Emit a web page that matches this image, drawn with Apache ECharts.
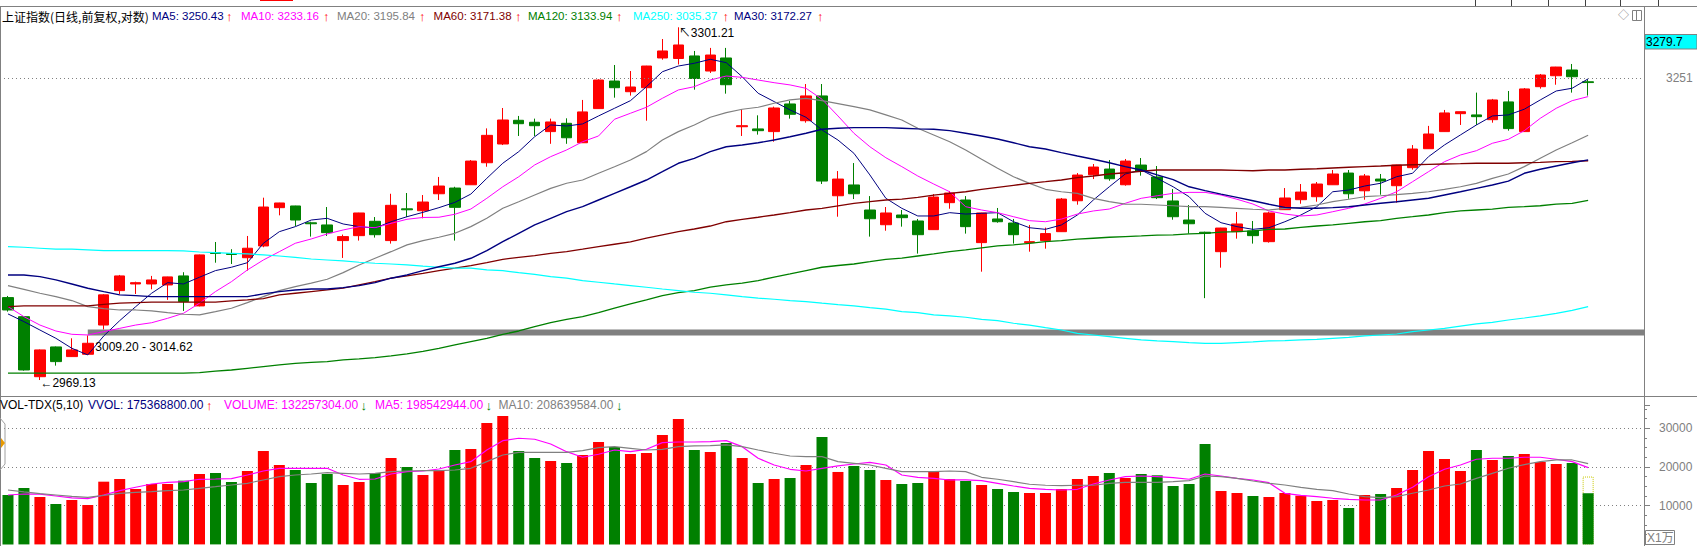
<!DOCTYPE html>
<html><head><meta charset="utf-8">
<script src="https://cdn.jsdelivr.net/npm/echarts@6.0.0/dist/echarts.min.js"></script>
<style>html,body{margin:0;padding:0;background:#fff;}#c{width:1697px;height:546px;}</style>
</head><body><div id="c"></div>
<script>
// ---------- data ----------
const open = [3043.6,3026.2,2972.1,2998.8,2990.1,2992.2,3018.6,3050.0,3056.1,3056.1,
3055.2,3063.5,3036.0,3085.0,3084.1,3080.3,3091.2,3127.0,3128.6,3112.8,
3110.8,3096.2,3100.8,3114.2,3096.2,3125.9,3124.1,3140.1,3145.5,3148.6,
3169.5,3187.4,3210.2,3208.3,3199.3,3207.3,3188.6,3221.5,3248.3,3237.9,
3241.8,3270.9,3270.4,3272.9,3258.1,3270.9,3204.0,3201.9,3199.3,3226.0,
3209.8,3233.8,3138.2,3148.4,3124.8,3111.0,3120.1,3114.5,3106.4,3131.7,
3134.2,3094.3,3116.4,3112.6,3094.3,3096.2,3104.5,3133.5,3158.1,3163.5,
3148.6,3167.3,3156.0,3133.3,3115.4,3104.0,3085.9,3104.5,3105.2,3095.2,
3125.1,3134.5,3137.3,3148.6,3159.7,3142.9,3154.0,3147.7,3164.8,3182.9,
3199.3,3216.6,3215.4,3210.8,3228.0,3199.3,3242.8,3253.5,3259.1,3247.6];
const close = [3032.3,2978.1,2996.1,2985.6,2996.1,3002.1,3046.1,3063.5,3057.3,3059.8,
3062.6,3040.0,3082.9,3084.2,3083.3,3089.1,3127.6,3131.4,3115.4,3111.9,
3103.6,3099.9,3122.0,3101.7,3129.2,3125.0,3132.3,3147.4,3127.3,3171.1,
3195.7,3210.5,3206.9,3205.0,3208.6,3193.4,3218.3,3249.3,3241.8,3242.5,
3263.0,3277.8,3283.7,3250.8,3273.8,3244.7,3205.0,3200.2,3222.1,3216.0,
3233.8,3152.1,3154.0,3140.1,3116.6,3122.0,3117.6,3101.7,3137.0,3140.8,
3109.2,3122.0,3113.8,3101.7,3095.2,3102.7,3135.1,3157.8,3165.4,3154.3,
3171.1,3161.6,3136.4,3118.5,3111.9,3103.0,3107.9,3111.7,3100.8,3122.0,
3136.1,3141.7,3149.3,3158.8,3140.1,3156.9,3152.1,3167.3,3182.6,3197.0,
3217.3,3218.5,3213.7,3229.9,3202.2,3240.6,3254.2,3262.0,3252.5,3246.8];
const low = [3030.8,2977.5,2969.13,2982.0,2989.8,2991.6,3014.62,3046.9,3046.9,3051.2,
3041.5,3031.4,3035.6,3075.7,3074.5,3068.4,3090.0,3119.8,3109.8,3099.9,
3100.5,3080.1,3096.2,3099.0,3093.4,3118.2,3117.0,3134.2,3096.2,3148.4,
3165.7,3186.4,3195.1,3195.1,3187.6,3187.6,3188.4,3221.3,3232.1,3234.1,
3209.8,3269.2,3264.5,3239.9,3256.2,3236.0,3195.1,3196.4,3189.6,3211.8,
3207.9,3149.3,3118.5,3135.1,3099.9,3105.4,3109.2,3084.1,3106.1,3126.0,
3102.7,3067.4,3112.9,3093.4,3085.9,3088.7,3104.3,3129.8,3154.0,3152.4,
3147.7,3157.2,3135.1,3115.7,3102.7,3043.1,3071.1,3098.0,3093.4,3094.3,
3124.9,3130.7,3132.6,3148.4,3135.4,3134.5,3139.2,3131.7,3162.9,3182.7,
3199.1,3205.7,3205.7,3207.9,3200.2,3199.1,3240.9,3244.7,3237.0,3234.1];
const high = [3045.1,3026.8,2996.5,2999.2,3006.6,3009.20,3046.7,3064.4,3058.2,3063.5,
3062.8,3066.9,3083.2,3094.9,3088.2,3100.5,3136.4,3131.6,3128.8,3113.8,
3127.6,3101.8,3122.2,3118.2,3140.1,3140.8,3138.9,3156.0,3146.7,3172.1,
3202.4,3222.1,3214.4,3211.8,3211.8,3212.1,3229.9,3250.0,3264.0,3258.1,
3263.2,3289.6,3301.21,3277.8,3280.8,3280.8,3220.9,3215.0,3223.4,3228.9,
3245.4,3245.4,3161.6,3169.2,3137.9,3127.6,3124.8,3116.4,3139.8,3142.7,
3137.9,3122.2,3126.7,3116.4,3110.8,3108.3,3136.1,3159.7,3168.3,3172.1,
3173.1,3174.0,3166.4,3144.5,3129.5,3104.5,3108.1,3122.9,3114.5,3123.2,
3145.5,3149.3,3151.2,3162.6,3162.6,3158.8,3158.8,3167.5,3186.4,3204.8,
3220.2,3218.7,3237.0,3230.9,3238.6,3241.5,3255.2,3262.2,3265.0,3250.0];

const ma5 = [3028.7,3021.7,3014.1,3006.6,2997.6,2991.6,3008.7,3022.6,3035.3,3047.6,
3057.3,3056.1,3062.3,3068.4,3071.5,3075.7,3093.7,3104.5,3109.2,3115.4,
3117.0,3111.7,3109.2,3107.9,3113.8,3118.5,3122.6,3127.0,3132.0,3139.8,
3154.7,3169.0,3180.1,3194.4,3205.7,3204.7,3206.7,3214.4,3221.8,3229.2,
3242.8,3257.4,3263.0,3265.7,3269.6,3266.3,3252.5,3236.4,3228.3,3220.2,
3213.1,3200.9,3191.2,3178.5,3157.9,3135.8,3126.4,3119.2,3119.2,3122.3,
3121.0,3121.7,3122.3,3113.8,3108.2,3106.7,3110.8,3120.1,3134.2,3146.7,
3158.8,3162.6,3154.7,3146.7,3137.3,3121.7,3112.9,3109.2,3106.7,3108.2,
3113.8,3120.1,3127.9,3142.0,3143.6,3147.4,3150.0,3156.2,3159.5,3175.3,
3186.5,3196.1,3205.7,3214.4,3215.4,3220.9,3229.9,3238.6,3241.3,3250.43];
const ma10 = [3035.4,3026.2,3018.6,3013.2,3010.2,3009.6,3012.6,3015.6,3018.6,3020.7,
3024.7,3029.3,3038.5,3049.1,3058.2,3069.0,3078.2,3085.9,3093.7,3097.7,
3102.4,3106.1,3109.2,3108.2,3112.3,3116.1,3117.8,3118.0,3120.8,3125.7,
3135.8,3146.7,3156.2,3167.4,3175.3,3181.7,3189.6,3195.1,3211.2,3217.0,
3222.8,3231.5,3239.6,3242.8,3249.3,3253.2,3251.9,3249.3,3246.7,3244.5,
3241.2,3230.6,3214.4,3197.7,3184.8,3174.3,3165.8,3156.9,3149.3,3142.0,
3127.9,3124.8,3122.3,3118.5,3114.8,3113.8,3116.3,3121.0,3123.9,3125.7,
3131.1,3135.8,3138.2,3140.5,3141.4,3141.4,3138.9,3134.9,3130.4,3123.9,
3121.0,3119.2,3120.1,3123.2,3126.4,3130.4,3135.8,3142.0,3151.5,3161.0,
3170.5,3176.9,3181.0,3188.1,3191.9,3200.2,3212.1,3221.8,3229.2,3233.16];
const ma20 = [3054.6,3051.2,3047.6,3044.5,3040.9,3035.4,3033.5,3032.3,3032.3,3031.4,
3029.8,3028.4,3027.8,3030.8,3033.9,3039.0,3044.5,3050.0,3053.6,3056.8,
3060.4,3066.5,3073.6,3079.8,3085.9,3092.2,3096.1,3099.3,3103.0,3109.2,
3117.0,3126.4,3132.6,3138.9,3145.2,3150.0,3153.1,3159.5,3165.7,3172.1,
3180.1,3191.2,3199.3,3205.7,3213.1,3217.6,3220.9,3222.8,3226.7,3229.9,
3231.5,3229.2,3226.3,3223.4,3220.2,3215.4,3210.5,3202.5,3196.1,3189.6,
3181.7,3172.8,3164.2,3156.2,3149.9,3144.3,3142.0,3140.5,3135.8,3132.6,
3130.4,3130.2,3129.5,3128.8,3127.9,3127.9,3127.3,3126.4,3125.5,3124.8,
3126.4,3127.3,3129.5,3132.6,3134.9,3137.3,3138.2,3139.2,3140.5,3142.0,
3144.3,3146.7,3149.9,3154.7,3158.8,3165.8,3173.7,3181.7,3188.6,3195.84];
const ma30 = [3064.4,3064.4,3062.8,3059.8,3056.1,3052.2,3049.1,3046.1,3045.4,3044.5,
3044.5,3044.5,3044.5,3044.5,3044.5,3044.5,3047.0,3049.1,3050.6,3051.5,
3051.5,3052.7,3054.6,3057.3,3061.4,3064.4,3068.4,3072.0,3075.2,3079.8,
3086.8,3095.2,3103.0,3110.8,3117.0,3123.2,3127.9,3134.2,3140.5,3146.7,
3153.1,3161.0,3169.0,3173.7,3180.1,3184.8,3186.5,3188.6,3191.2,3194.4,
3197.7,3201.6,3202.5,3203.1,3203.1,3203.1,3202.5,3201.9,3201.6,3200.2,
3197.7,3195.1,3192.2,3188.6,3184.8,3182.6,3179.1,3175.9,3172.8,3169.5,
3165.8,3162.6,3157.9,3153.5,3146.7,3143.0,3139.8,3136.7,3133.5,3130.2,
3127.3,3126.4,3126.4,3127.0,3127.9,3129.5,3131.1,3132.6,3134.2,3135.8,
3138.9,3142.0,3145.2,3148.4,3152.1,3159.5,3163.3,3166.4,3169.5,3172.27];
const ma60 = [3035.4,3036.0,3036.0,3036.0,3036.0,3036.0,3037.5,3038.5,3039.0,3039.4,
3039.4,3039.4,3039.4,3039.4,3040.6,3041.5,3042.7,3046.1,3047.6,3049.1,
3050.6,3052.2,3055.2,3058.2,3061.4,3063.5,3065.8,3068.4,3070.6,3073.0,
3075.7,3078.8,3080.7,3082.2,3084.4,3085.9,3088.2,3090.6,3092.8,3095.0,
3098.4,3101.5,3104.5,3107.0,3109.8,3113.8,3116.1,3118.0,3120.1,3122.3,
3124.8,3126.4,3128.6,3131.1,3132.6,3134.2,3135.1,3136.7,3138.9,3140.5,
3142.0,3144.3,3146.2,3148.1,3150.0,3151.5,3153.1,3155.3,3156.9,3158.8,
3160.0,3161.4,3162.6,3162.6,3162.6,3162.6,3162.6,3162.3,3161.9,3162.6,
3162.6,3163.3,3163.8,3164.5,3165.2,3165.8,3166.4,3167.1,3167.6,3168.0,
3168.3,3168.6,3169.0,3169.0,3169.0,3169.5,3169.9,3170.5,3170.9,3171.38];
const ma120 = [2975.2,2975.2,2975.2,2975.2,2975.2,2975.2,2975.2,2975.2,2975.2,2975.2,
2975.2,2975.2,2975.7,2977.0,2978.1,2979.6,2981.1,2982.6,2984.1,2985.0,
2985.6,2987.1,2988.0,2989.2,2990.7,2992.5,2994.8,2997.6,3000.6,3003.6,
3006.6,3010.2,3013.2,3017.1,3020.7,3023.8,3026.2,3029.8,3033.9,3037.8,
3041.5,3045.4,3048.1,3050.0,3053.1,3055.2,3056.8,3059.2,3062.3,3065.3,
3068.4,3071.5,3073.1,3074.5,3076.6,3078.8,3080.0,3081.9,3083.8,3085.9,
3087.5,3089.4,3091.2,3092.2,3093.7,3095.2,3096.2,3097.5,3098.4,3099.3,
3099.9,3100.5,3101.2,3101.5,3102.4,3103.0,3104.0,3104.5,3105.2,3106.7,
3107.0,3108.6,3109.8,3110.8,3112.3,3113.8,3114.8,3117.0,3118.5,3120.1,
3122.3,3123.9,3124.8,3125.7,3127.3,3127.9,3128.8,3130.4,3131.1,3133.94];
const ma250 = [3090.6,3090.0,3089.1,3088.2,3088.2,3087.5,3086.8,3086.8,3086.8,3086.8,
3086.8,3086.6,3085.6,3085.0,3084.4,3083.8,3082.9,3081.9,3080.7,3079.1,
3078.2,3077.3,3076.1,3075.2,3074.5,3073.6,3072.5,3071.5,3070.6,3070.6,
3069.0,3068.4,3066.5,3065.0,3062.8,3061.4,3059.2,3057.7,3056.1,3054.6,
3053.1,3051.5,3050.0,3048.5,3047.6,3046.1,3044.5,3043.1,3042.1,3040.9,
3039.9,3038.5,3037.2,3036.0,3034.4,3033.0,3030.8,3029.8,3027.8,3026.9,
3025.7,3023.8,3022.6,3020.2,3018.6,3016.2,3014.1,3011.1,3009.6,3008.1,
3006.6,3005.1,3004.2,3003.6,3002.7,3002.1,3002.1,3002.7,3003.3,3004.2,
3004.5,3005.1,3005.7,3006.6,3007.5,3008.7,3009.6,3010.5,3012.6,3014.1,
3015.6,3017.7,3019.6,3021.1,3023.2,3025.0,3026.9,3029.2,3032.0,3035.37];

// volume in units of 1万
const volume = [12770,14580,12250,10440,11480,10190,16210,16900,14320,15610,
15610,16470,18200,18460,16130,18970,24140,20520,19230,15870,
18200,15350,16130,18460,22330,20010,17940,19230,24400,24660,
31380,33190,24140,22330,21560,21040,23110,26470,25180,23370,
23630,28280,32420,24400,23890,26210,22330,15870,16900,17160,
20520,27760,18720,20270,19230,16650,15610,15870,18720,16900,
16390,15350,14320,13550,13290,13290,14320,16900,17680,18460,
17160,18200,17860,15100,15610,25950,13800,13290,12510,12250,
13290,12590,11220,11480,9410,12770,13030,14580,19230,24140,
22080,18970,24400,21820,22850,23370,21300,20780,21040,13225.73];
const volMa5 = [12770,13030,13000,12510,12000,11820,12770,13880,14760,15610,
16050,16210,16830,16900,16980,17940,18970,19670,19670,19670,
19670,17940,16830,16900,18200,18800,18970,19490,20520,21380,
24400,26810,27430,27170,25950,23960,22520,23290,24400,23960,
24580,26290,26470,26470,26550,26810,25260,22260,20520,19410,
18970,19670,20270,20780,21220,20520,17940,17340,17080,16650,
16650,16470,15790,15100,14500,14240,14060,14240,15610,16650,
17500,17680,17500,17240,16830,18200,17680,17080,16650,15950,
13210,12690,12330,11920,11660,11480,11480,12770,14760,17500,
19410,20520,22000,22260,22260,22520,22520,22000,21380,19854.29];
const volMa10 = [14060,13550,13110,12770,12430,12170,12690,13210,13470,13620,
13880,14060,14500,14920,15350,15790,16650,17500,17940,18200,
18540,18370,18200,18370,18800,18970,19060,19060,19230,19670,
21380,23110,23800,23800,23800,23800,24230,25000,25260,24840,
24400,24580,25260,25440,25520,25700,25260,24400,23550,22850,
22670,22670,21380,20960,20520,19670,18800,18800,18800,18970,
18800,17340,16830,16210,15540,15280,15170,15280,15280,15790,
16050,16050,16050,16210,16470,17680,17500,17080,16390,15790,
15350,14760,14240,13880,13030,12330,12070,12330,13210,14060,
15100,15610,17080,18370,19670,20600,21380,21820,21820,20863.96];

const maNames = ['MA5','MA10','MA20','MA60','MA120','MA250','MA30'];
const maLast = [3250.43, 3233.16, 3195.84, 3171.38, 3133.94, 3035.37, 3172.27];
const volLegendNames = ['VVOL','VOLUME','MA5','MA10'];
const volLegendValues = [175368800.00, 132257304.00, 198542944.00, 208639584.00];
const vvolEstimate = 17536.88;          // 万, dotted box on last bar
const priceTicks = [3251];
const volTickInterval = 10000;
const gapRange = [3009.20, 3014.62];
const gapIndex = 5;
const highIndex = 42, highValue = 3301.21;
const lowIndex = 2, lowValue = 2969.13;
const cursorPrice = '3279.7';
const titleText = '上证指数(日线,前复权,对数)';

// ---------- chart ----------
const N = open.length;
const slots = Array.from({length: N + 3}, (_, i) => String(i + 1));
const candles = open.map((o, i) => [o, close[i], low[i], high[i]]);
const RED = '#FF0000', GREEN = '#008000';
const FONT = '"Liberation Sans", Arial, "Noto Sans CJK SC", sans-serif';

const maSeries = [ma5, ma10, ma20, ma60, ma120, ma250, ma30];
const maColors = ['#000080', '#FF00FF', '#808080', '#800000', '#008000', '#00FFFF', '#000080'];
const maWidths = [1, 1, 1.2, 1.3, 1.3, 1.2, 1.4];

const volBars = volume.map((v, i) => ({value: v, itemStyle: {color: close[i] >= open[i] ? RED : GREEN}}));
const vvolData = volume.map((v, i) => i === N - 1 ? vvolEstimate : null);

const g = [];
function line(x1, y1, x2, y2, c, w) {
  g.push({type: 'line', silent: true, z: 100, shape: {x1, y1, x2, y2}, style: {stroke: c, lineWidth: w || 1}});
}
function text(x, y, t, c, size, fam) {
  g.push({type: 'text', silent: true, z: 101, x, y,
    style: {text: t, fill: c, fontSize: size || 12, fontFamily: fam || FONT, verticalAlign: 'middle', align: 'left'}});
}
// frame lines
line(0, 6.5, 1697, 6.5, '#808080');
line(0, 396.5, 1697, 396.5, '#808080');
line(1644.5, 6, 1644.5, 546, '#808080');
line(0.5, 6, 0.5, 546, '#808080');
[1475, 1511, 1548, 1585, 1620, 1658].forEach(x => line(x + 0.5, 0, x + 0.5, 6, '#404040'));
line(260, 0.5, 293, 0.5, RED);
// main legend
text(2, 16, titleText, '#000000', 12, '"Noto Sans CJK SC", sans-serif');
const maLegendX = [152, 241, 337, 433.6, 528, 633, 734];
const maArrowX = [226, 323, 419, 515, 616, 722.5, 817];
maNames.forEach((n, i) => {
  text(maLegendX[i], 16, n + ': ' + maLast[i].toFixed(2), maColors[i], 11.5);
  text(maArrowX[i], 16, '↑', RED, 13);
});
// volume legend
text(0, 405, 'VOL-TDX(5,10)', '#000000', 12);
const volLegendX = [88, 224, 375, 498.6];
const volArrowX = [206, 360.5, 485.5, 616];
const volLegendColors = ['#000080', '#FF00FF', '#FF00FF', '#808080'];
const volArrows = ['↑', '↓', '↓', '↓'];
volLegendNames.forEach((n, i) => {
  text(volLegendX[i], 405, n + ': ' + volLegendValues[i].toFixed(2), volLegendColors[i], 12);
  text(volArrowX[i], 405, volArrows[i], volArrows[i] === '↑' ? RED : GREEN, 13);
});
// right-side widgets
g.push({type: 'rect', silent: true, z: 100, shape: {x: 1645, y: 34.5, width: 52, height: 14.5},
  style: {fill: '#00FFFF', stroke: '#808080', lineWidth: 1}});
text(1646, 42, cursorPrice, '#000000', 12);
text(1618, 15, '◇', '#808080', 11);
g.push({type: 'rect', silent: true, z: 100, shape: {x: 1632.5, y: 10.5, width: 9, height: 10},
  style: {fill: 'none', stroke: '#808080', lineWidth: 1}});
line(1636.5, 10.5, 1636.5, 20.5, '#808080');
g.push({type: 'rect', silent: true, z: 100, shape: {x: 1645.5, y: 530.5, width: 29, height: 14},
  style: {fill: 'none', stroke: '#808080', lineWidth: 1}});
text(1647, 538, 'X1万', '#808080', 12);
// left marker of volume pane
g.push({type: 'polyline', silent: true, z: 100, shape: {points: [[0, 418], [5, 424], [5, 464], [0, 470]]},
  style: {stroke: '#A0A0A0', fill: 'none', lineWidth: 1}});
g.push({type: 'polygon', silent: true, z: 100, shape: {points: [[1, 438], [5, 443], [1, 448]]},
  style: {fill: '#E89A00'}});

const option = {
  animation: false,
  backgroundColor: '#ffffff',
  grid: [
    {left: 0, width: 1644, top: 7, height: 389},
    {left: 0, width: 1644, top: 405.1, height: 139.3}
  ],
  xAxis: [0, 1].map(gi => ({
    type: 'category', gridIndex: gi, data: slots, boundaryGap: true,
    axisLine: {show: false}, axisTick: {show: false}, axisLabel: {show: false}, splitLine: {show: false}
  })),
  yAxis: [
    {type: 'log', logBase: 10, gridIndex: 0, min: 2954.9, max: 3321.4, position: 'right',
     axisLine: {show: false}, axisTick: {show: false}, axisLabel: {show: false}, splitLine: {show: false}},
    {type: 'value', gridIndex: 1, min: 0, max: 36000, interval: volTickInterval, position: 'right',
     axisLine: {show: false},
     axisTick: {show: true, length: 6, lineStyle: {color: '#808080'}},
     minorTick: {show: true, splitNumber: 4, length: 3, lineStyle: {color: '#808080'}},
     axisLabel: {show: true, color: '#808080', fontSize: 12, fontFamily: FONT, margin: 15,
                 showMinLabel: false, showMaxLabel: false, formatter: v => String(v)},
     splitLine: {show: true, showMinLine: false, showMaxLine: false,
                 lineStyle: {color: '#808080', type: [1, 3], width: 1}}}
  ],
  series: [
    {
      type: 'candlestick', name: 'K', xAxisIndex: 0, yAxisIndex: 0, data: candles, barWidth: 11, z: 2,
      itemStyle: {color: RED, color0: GREEN, borderColor: RED, borderColor0: GREEN, borderWidth: 1},
      markLine: {
        silent: true, symbol: 'none', animation: false,
        lineStyle: {color: '#808080', type: [1, 3], width: 1},
        label: {show: true, position: 'end', distance: 22, color: '#808080', fontSize: 12, fontFamily: FONT},
        data: priceTicks.map(v => ({yAxis: v}))
      },
      markArea: {
        silent: true,
        itemStyle: {color: '#808080', opacity: 1},
        data: [[{xAxis: gapIndex, yAxis: gapRange[1]}, {yAxis: gapRange[0]}]]
      },
      markPoint: {
        silent: true, symbol: 'circle', symbolSize: 1, itemStyle: {color: 'rgba(0,0,0,0)'},
        label: {show: true, position: 'right', distance: 0, color: '#000000', fontSize: 12, fontFamily: FONT},
        data: [
          {coord: [highIndex, highValue], label: {formatter: '↖' + highValue.toFixed(2), offset: [0, 6]}},
          {coord: [lowIndex, lowValue], label: {formatter: '←' + lowValue.toFixed(2), offset: [0, 3]}},
          {coord: [gapIndex, gapRange[0]], label: {formatter: gapRange[0].toFixed(2) + ' - ' + gapRange[1].toFixed(2), offset: [7, 12]}}
        ]
      }
    },
    ...maSeries.map((d, k) => ({
      type: 'line', name: maNames[k], xAxisIndex: 0, yAxisIndex: 0, data: d, symbol: 'none', silent: true, z: 3,
      lineStyle: {color: maColors[k], width: maWidths[k]}
    })),
    {
      type: 'bar', name: 'VVOL', xAxisIndex: 1, yAxisIndex: 1, data: vvolData, barWidth: 11, barGap: '-100%', z: 2,
      itemStyle: {color: 'rgba(0,0,0,0)', borderColor: '#C8C800', borderWidth: 1, borderType: [1, 1]}
    },
    {
      type: 'bar', name: 'VOLUME', xAxisIndex: 1, yAxisIndex: 1, data: volBars, barWidth: 11, barGap: '-100%', z: 3
    },
    {type: 'line', name: 'VMA5', xAxisIndex: 1, yAxisIndex: 1, data: volMa5, symbol: 'none', silent: true, z: 4,
     lineStyle: {color: '#FF00FF', width: 1.2}},
    {type: 'line', name: 'VMA10', xAxisIndex: 1, yAxisIndex: 1, data: volMa10, symbol: 'none', silent: true, z: 4,
     lineStyle: {color: '#808080', width: 1.2}}
  ],
  graphic: g
};
const chart = echarts.init(document.getElementById('c'), null, {renderer: 'svg'});
chart.setOption(option);
</script></body></html>
